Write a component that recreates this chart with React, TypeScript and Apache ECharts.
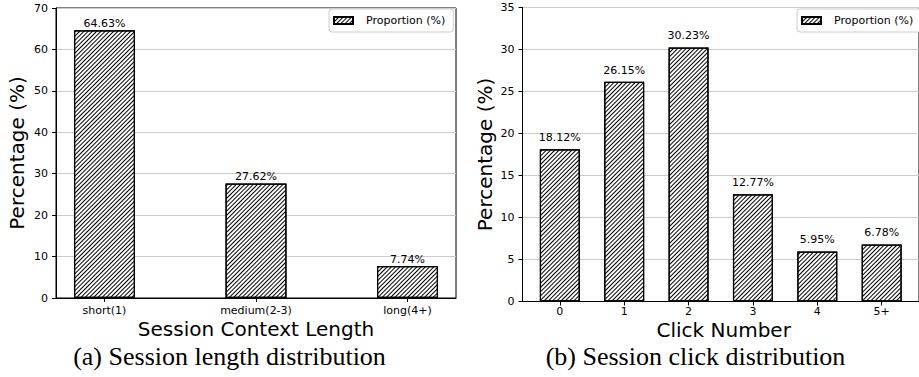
import React, { useEffect, useRef } from "react";
import * as echarts from "echarts";

const lengthCategories = ["short(1)", "medium(2-3)", "long(4+)"];
const lengthValues = [64.63, 27.62, 7.74];
const clickCategories = ["0", "1", "2", "3", "4", "5+"];
const clickValues = [18.12, 26.15, 30.23, 12.77, 5.95, 6.78];
const seriesName = "Proportion (%)";
const yTitle = "Percentage (%)";
const xTitleA = "Session Context Length";
const xTitleB = "Click Number";
const captionA = "(a) Session length distribution";
const captionB = "(b) Session click distribution";

const SANS = "DejaVu Sans";
const SERIF = "Liberation Serif";

const decal = {
  symbol: "rect",
  symbolSize: 1,
  color: "#000",
  dashArrayX: [1, 0],
  dashArrayY: [1, 2],
  rotation: -Math.PI / 4,
};

function App() {
  const ref = useRef<HTMLDivElement>(null);
  useEffect(() => {
    if (!ref.current) return;
    const chart = echarts.init(ref.current, null, { renderer: "svg" });
    const axisText = { fontFamily: SANS, fontSize: 11, color: "#000" };
    const makeX = (gridIndex: number, cats: string[], min: number, max: number, margin: number) => ({
      type: "value",
      gridIndex,
      min,
      max,
      splitLine: { show: false },
      axisLine: { show: true, onZero: false, lineStyle: { color: "#000", width: 1 } },
      axisTick: {
        show: true,
        length: 4,
        lineStyle: { color: "#000" },
        customValues: cats.map((_, i) => i),
      },
      axisLabel: {
        ...axisText,
        margin,
        customValues: cats.map((_, i) => i),
        formatter: (v: number) => cats[Math.round(v)] ?? "",
      },
    });
    const makeY = (gridIndex: number, max: number, interval: number) => ({
      type: "value",
      gridIndex,
      min: 0,
      max,
      interval,
      axisLine: { show: true, onZero: false, lineStyle: { color: "#000", width: 1 } },
      axisTick: { show: true, length: 4, lineStyle: { color: "#000" } },
      axisLabel: { ...axisText, margin: 8 },
      splitLine: { show: true, lineStyle: { color: "#cccccc", width: 1 } },
    });
    const makeSeries = (idx: number, values: number[], barWidth: number, distance: number) => ({
      type: "bar",
      name: seriesName,
      xAxisIndex: idx,
      yAxisIndex: idx,
      data: values.map((v, i) => [i, v]),
      barWidth,
      itemStyle: { color: "#fff", borderColor: "#000", borderWidth: 1.2, decal },
      label: {
        show: true,
        position: "top",
        distance,
        fontFamily: SANS,
        fontSize: 11,
        color: "#000",
        formatter: (p: any) => p.value[1].toFixed(2) + "%",
      },
    });
    const makeLegend = (left: number) => ({
      data: [seriesName],
      left,
      top: 9,
      orient: "horizontal",
      selectedMode: false,
      icon: "rect",
      itemWidth: 19,
      itemHeight: 7,
      padding: [6, 8, 6, 4],
      backgroundColor: "#fff",
      borderColor: "#cccccc",
      borderWidth: 1,
      borderRadius: 3,
      textStyle: { fontFamily: SANS, fontSize: 11, color: "#000", padding: [0, 0, 0, 8] },
    });
    const text = (t: string, x: number, y: number, font: string, size: number, lineHeight: number, rotation = 0) => ({
      type: "text",
      x,
      y,
      rotation,
      silent: true,
      style: {
        text: t,
        fontFamily: font,
        fontSize: size,
        lineHeight,
        fill: "#000",
        align: "center",
        verticalAlign: "middle",
        textAlign: "center",
        textVerticalAlign: "middle",
      },
    });
    chart.setOption({
      animation: false,
      backgroundColor: "#fff",
      grid: [
        { left: 56, top: 8, width: 400, height: 290, show: true, borderColor: "#000", borderWidth: 1, backgroundColor: "transparent" },
        { left: 522.5, top: 7.5, width: 401.5, height: 294, show: true, borderColor: "#000", borderWidth: 1, backgroundColor: "transparent" },
      ],
      xAxis: [
        makeX(0, lengthCategories, -0.32, 2.32, 7),
        makeX(1, clickCategories, -0.58, 5.58, 4.5),
      ],
      yAxis: [makeY(0, 70, 10), makeY(1, 35, 5)],
      legend: [makeLegend(329), makeLegend(797)],
      series: [makeSeries(0, lengthValues, 61, 1.4), makeSeries(1, clickValues, 40, 6.2)],
      graphic: [
        text(yTitle, 17, 153, SANS, 20, 20, Math.PI / 2),
        text(yTitle, 484.5, 154.5, SANS, 20, 20, Math.PI / 2),
        text(xTitleA, 256, 328.8, SANS, 20, 17),
        text(xTitleB, 723.7, 330.2, SANS, 20, 17),
        text(captionA, 229.5, 356, SERIF, 26, 22),
        text(captionB, 695.5, 356, SERIF, 26, 22),
      ],
    });
    return () => chart.dispose();
  }, []);
  return (
    <div
      ref={ref}
      style={{ position: "absolute", left: 0, top: 0, width: 919, height: 377 }}
    />
  );
}

export default App;
